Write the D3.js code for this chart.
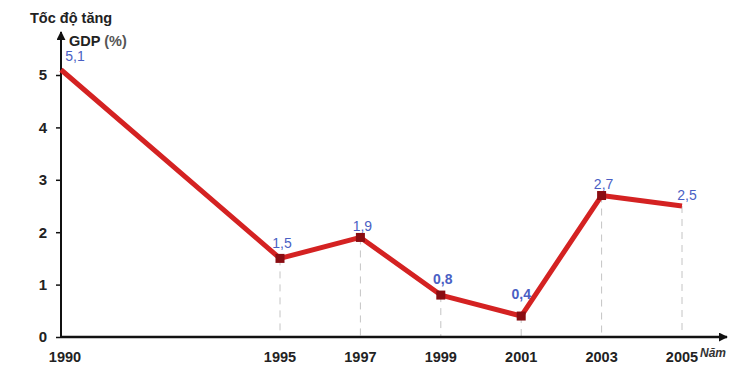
<!DOCTYPE html>
<html>
<head>
<meta charset="utf-8">
<script src="https://cdn.jsdelivr.net/npm/d3@7"></script>
<style>
  body { margin: 0; background: #fff; }
  text { font-family: "Liberation Sans", Arial, sans-serif; }
</style>
</head>
<body>
<script>
"use strict";
var years = [1990, 1995, 1997, 1999, 2001, 2003, 2005];
var growth = [5.1, 1.5, 1.9, 0.8, 0.4, 2.7, 2.5];
var valueLabels = ["5,1", "1,5", "1,9", "0,8", "0,4", "2,7", "2,5"];
var yTicks = [0, 1, 2, 3, 4, 5];

var width = 749, height = 378;

var svg = d3.select("body").append("svg")
    .attr("width", width)
    .attr("height", height);

// x axis is not to scale in the original: 1990-1995 gap is compressed
var x = d3.scaleLinear()
    .domain([1990, 1995, 2005])
    .range([61, 280, 682]);

var y = d3.scaleLinear()
    .domain([0, 5])
    .range([337, 75]);

var data = years.map(function (d, i) {
    return { year: d, value: growth[i], label: valueLabels[i] };
});

// arrow head
svg.append("defs").append("marker")
    .attr("id", "arrow")
    .attr("viewBox", "0 0 10 10")
    .attr("refX", 9).attr("refY", 5)
    .attr("markerWidth", 9).attr("markerHeight", 9)
    .attr("markerUnits", "userSpaceOnUse")
    .attr("orient", "auto")
    .append("path")
    .attr("d", "M0,0L10,5L0,10Z")
    .attr("fill", "#111");

// dashed drop lines
svg.append("g")
    .selectAll("line")
    .data(data.slice(1))
    .enter().append("line")
    .attr("x1", function (d) { return x(d.year); })
    .attr("x2", function (d) { return x(d.year); })
    .attr("y1", function (d) { return y(d.value); })
    .attr("y2", y(0))
    .attr("stroke", "#c4c4c4")
    .attr("stroke-width", 1)
    .attr("stroke-dasharray", "7,6");

// y axis
var yAxis = svg.append("g")
    .attr("transform", "translate(" + x(1990) + ",0)")
    .call(d3.axisLeft(y).tickValues(yTicks).tickSize(5).tickPadding(9).tickFormat(d3.format("d")));
yAxis.select(".domain").remove();
yAxis.selectAll("line").attr("stroke", "#111").attr("stroke-width", 1.5);
yAxis.selectAll("text")
    .attr("font-size", 15)
    .attr("font-weight", "bold")
    .attr("fill", "#222");

svg.append("line")
    .attr("x1", x(1990)).attr("x2", x(1990))
    .attr("y1", y(0) + 1).attr("y2", 32)
    .attr("stroke", "#111").attr("stroke-width", 2)
    .attr("marker-end", "url(#arrow)");

// x axis
svg.append("line")
    .attr("x1", x(1990)).attr("x2", 727)
    .attr("y1", y(0)).attr("y2", y(0))
    .attr("stroke", "#111").attr("stroke-width", 2.5)
    .attr("marker-end", "url(#arrow)");

svg.append("g")
    .selectAll("text")
    .data(years)
    .enter().append("text")
    .attr("x", function (d, i) { return x(d) + (i === 0 ? 4 : 0); })
    .attr("y", 362)
    .attr("text-anchor", "middle")
    .attr("font-size", 14.5)
    .attr("font-weight", "bold")
    .attr("fill", "#222")
    .text(function (d) { return d; });

svg.append("text")
    .attr("x", 700).attr("y", 357)
    .attr("font-size", 12)
    .attr("font-style", "italic")
    .attr("font-weight", "bold")
    .attr("fill", "#333")
    .text("Năm");

// axis titles
svg.append("text")
    .attr("x", 30).attr("y", 23)
    .attr("font-size", 14.5)
    .attr("font-weight", "bold")
    .attr("fill", "#222")
    .text("Tốc độ tăng");

var gdpTitle = svg.append("text")
    .attr("x", 69).attr("y", 46)
    .attr("font-size", 14.5)
    .attr("fill", "#222");
gdpTitle.append("tspan").attr("font-weight", "bold").text("GDP ");
gdpTitle.append("tspan").attr("fill", "#555").attr("font-weight", "bold").text("(%)");

// line
var line = d3.line()
    .x(function (d) { return x(d.year); })
    .y(function (d) { return y(d.value); });

svg.append("path")
    .datum(data)
    .attr("d", line)
    .attr("fill", "none")
    .attr("stroke", "#d42222")
    .attr("stroke-width", 5)
    .attr("stroke-linejoin", "round");

// markers
svg.append("g")
    .selectAll("rect")
    .data(data.slice(1, 6))
    .enter().append("rect")
    .attr("x", function (d) { return x(d.year) - 4.5; })
    .attr("y", function (d) { return y(d.value) - 4.5; })
    .attr("width", 9).attr("height", 9)
    .attr("fill", "#8a0d12");

// value labels
var labelOffset = [[14, -9], [2, -10], [2, -6], [2, -11], [0, -17], [2, -7], [5, -6]];
svg.append("g")
    .selectAll("text")
    .data(data)
    .enter().append("text")
    .attr("x", function (d, i) { return x(d.year) + labelOffset[i][0]; })
    .attr("y", function (d, i) { return y(d.value) + labelOffset[i][1]; })
    .attr("text-anchor", "middle")
    .attr("font-size", 14)
    .attr("font-weight", function (d, i) { return (i === 3 || i === 4) ? "bold" : "normal"; })
    .attr("fill", "#4a5fc4")
    .text(function (d) { return d.label; });
</script>
</body>
</html>
